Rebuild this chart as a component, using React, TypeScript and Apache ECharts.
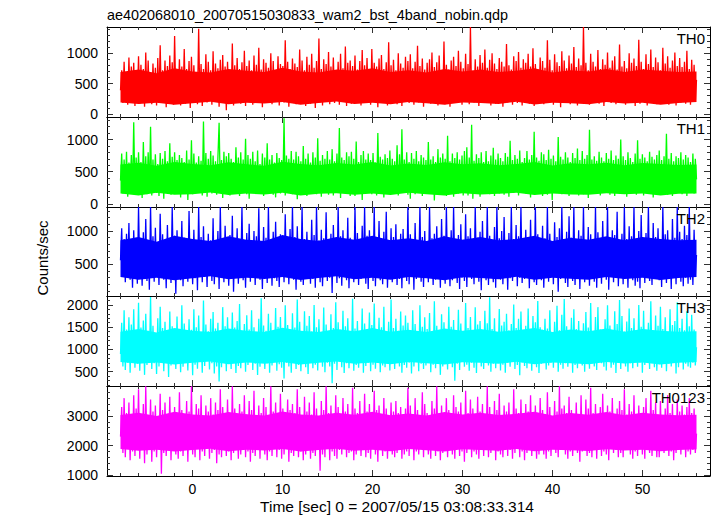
import React, { useEffect, useRef } from "react";
import * as echarts from "echarts";

const TITLE = "ae402068010_20070515030833_wam2_bst_4band_nobin.qdp";
const X_TITLE = "Time [sec] 0 = 2007/05/15 03:08:33.314";
const Y_TITLE = "Counts/sec";
const PANEL_NAMES = ["TH0", "TH1", "TH2", "TH3", "TH0123"];
const PANEL_COLORS = ["#ff0000", "#00ff00", "#0000ff", "#00ffff", "#ff00ff"];

const T_START = -8;
const T_END = 56;
const X_MAJOR_TICKS = [0, 10, 20, 30, 40, 50];
const X_MINOR_TICKS = [-8, -6, -4, -2, 0, 2, 4, 6, 8, 10, 12, 14, 16, 18, 20, 22, 24, 26, 28, 30, 32, 34, 36, 38, 40, 42, 44, 46, 48, 50, 52, 54, 56];

const Y_RANGES: [number, number][] = [[-50, 1430], [-50, 1350], [25, 1360], [180, 2200], [970, 4010]];
const Y_MAJOR_TICKS = [[0, 500, 1000], [0, 500, 1000], [500, 1000], [500, 1000, 1500, 2000], [1000, 2000, 3000]];
const Y_MINOR_TICKS = [
  [0, 100, 200, 300, 400, 500, 600, 700, 800, 900, 1000, 1100, 1200, 1300, 1400],
  [0, 100, 200, 300, 400, 500, 600, 700, 800, 900, 1000, 1100, 1200, 1300],
  [100, 200, 300, 400, 500, 600, 700, 800, 900, 1000, 1100, 1200, 1300],
  [200, 300, 400, 500, 600, 700, 800, 900, 1000, 1100, 1200, 1300, 1400, 1500, 1600, 1700, 1800, 1900, 2000, 2100],
  [1000, 1200, 1400, 1600, 1800, 2000, 2200, 2400, 2600, 2800, 3000, 3200, 3400, 3600, 3800],
];

// light curves (counts/sec), sampled uniformly from t = -8 s to t = 56 s
const th0 = [
  390, 720, 180, 860, 240, 690, 150, 930, 210, 780, 270, 840, 130, 700, 230, 950,
  170, 810, 260, 740, 120, 1010, 200, 880, 250, 690, 160, 830, 290, 760, 140, 920,
  220, 1130, 180, 720, 270, 880, 110, 790, 240, 960, 190, 850, 150, 1280, 230, 710,
  280, 900, 140, 780, 210, 1070, 170, 740, 250, 870, 100, 940, 200, 800, 260, 690,
  160, 1400, 230, 820, 130, 740, 280, 980, 190, 860, 240, 720, 150, 1030, 210, 830,
  270, 750, 120, 890, 220, 970, 180, 780, 60, 860, 250, 710, 190, 1160, 140, 800,
  230, 920, 280, 740, 170, 850, 210, 1040, 130, 790, 260, 880, 200, 720, 150, 960,
  240, 810, 190, 1090, 270, 730, 110, 900, 220, 840, 180, 760, 300, 1000, 160, 870,
  210, 700, 250, 950, 140, 820, 230, 790, 190, 1210, 270, 860, 120, 740, 200, 910,
  260, 830, 160, 770, 240, 1060, 180, 880, 290, 720, 130, 940, 220, 810, 170, 990,
  230, 760, 100, 870, 250, 1240, 190, 740, 140, 900, 270, 820, 210, 1020, 160, 780,
  280, 930, 180, 710, 240, 860, 150, 990, 220, 750, 260, 1110, 130, 840, 200, 880,
  170, 790, 250, 960, 190, 730, 290, 870, 140, 1050, 220, 800, 180, 920, 240, 720,
  150, 1070, 270, 840, 200, 780, 110, 910, 230, 970, 180, 740, 260, 850, 140, 1180,
  220, 800, 190, 890, 280, 720, 160, 1000, 240, 830, 130, 760, 210, 940, 270, 870,
  180, 980, 230, 750, 150, 860, 250, 1120, 190, 790, 280, 910, 120, 730, 220, 840,
  260, 900, 170, 1010, 230, 770, 200, 850, 140, 960, 250, 720, 190, 1190, 160, 810,
  240, 730, 120, 880, 270, 940, 210, 790, 180, 1040, 230, 860, 150, 750, 290, 990,
  200, 820, 160, 1430, 250, 710, 190, 900, 230, 780, 130, 970, 260, 840, 180, 1060,
  270, 760, 220, 890, 140, 1000, 240, 830, 170, 740, 280, 920, 200, 860, 120, 780,
  230, 1150, 190, 800, 260, 730, 150, 950, 220, 870, 180, 1020, 250, 760, 140, 900,
  210, 840, 280, 990, 170, 780, 240, 1080, 130, 820, 230, 740, 190, 930, 260, 870,
  160, 760, 220, 1210, 180, 890, 270, 720, 150, 980, 240, 850, 200, 790, 110, 1030,
  250, 880, 190, 750, 230, 960, 160, 830, 280, 1100, 210, 770, 140, 910, 240, 800,
  180, 1430, 260, 840, 200, 720, 150, 990, 230, 860, 190, 780, 270, 1050, 170, 740,
  220, 900, 130, 810, 250, 1010, 210, 760, 180, 880, 240, 950, 160, 730, 280, 1140,
  200, 780, 240, 870, 150, 750, 260, 1000, 190, 840, 220, 910, 130, 790, 250, 1220,
  170, 860, 230, 740, 280, 980, 140, 820, 210, 1060, 250, 770, 190, 930, 160, 850,
  260, 720, 180, 1090, 230, 830, 200, 950, 150, 760, 270, 880, 220, 1010, 140, 790,
  240, 920, 190, 770, 260, 860, 170, 1040, 230, 740, 150, 890, 280, 810, 200, 560,
];
const th1 = [
  360, 780, 160, 690, 220, 810, 110, 640, 250, 760, 180, 1270, 140, 720, 230, 800,
  200, 650, 90, 960, 240, 740, 150, 800, 210, 1200, 130, 690, 260, 770, 170, 620,
  120, 790, 230, 700, 80, 820, 190, 660, 250, 940, 140, 730, 210, 800, 160, 680,
  230, 760, 100, 710, 270, 650, 170, 830, 60, 690, 220, 990, 150, 780, 240, 640,
  180, 740, 250, 670, 130, 1280, 210, 790, 110, 700, 240, 820, 160, 750, 200, 660,
  140, 720, 1260, 230, 680, 90, 810, 200, 740, 260, 790, 130, 700, 220, 650, 170,
  880, 240, 720, 120, 800, 190, 690, 250, 1010, 150, 760, 80, 700, 230, 810, 170,
  660, 210, 830, 160, 620, 270, 780, 120, 720, 230, 940, 180, 690, 250, 760, 140,
  640, 100, 790, 240, 710, 160, 680, 210, 1330, 130, 750, 260, 700, 190, 820, 150,
  690, 190, 810, 70, 740, 230, 660, 160, 900, 220, 700, 120, 780, 250, 640, 180,
  800, 260, 720, 150, 1020, 210, 670, 110, 760, 240, 700, 180, 820, 140, 690, 230,
  850, 130, 660, 270, 780, 200, 1180, 90, 720, 230, 680, 160, 800, 210, 740, 120,
  810, 220, 700, 120, 970, 250, 650, 180, 760, 60, 820, 230, 690, 170, 780, 240,
  680, 150, 790, 240, 640, 130, 1100, 200, 730, 260, 690, 100, 770, 210, 710, 160,
  830, 210, 700, 160, 660, 240, 910, 130, 770, 220, 1160, 180, 690, 250, 800, 140,
  650, 80, 790, 230, 700, 150, 820, 200, 660, 270, 760, 120, 720, 190, 680, 240,
  960, 230, 690, 170, 740, 50, 650, 250, 850, 140, 720, 210, 780, 160, 700, 120,
  1060, 180, 660, 260, 780, 110, 710, 220, 800, 160, 690, 240, 750, 130, 820, 200,
  880, 130, 720, 200, 1230, 80, 670, 230, 770, 170, 710, 110, 800, 250, 650, 190,
  820, 250, 660, 150, 750, 210, 870, 120, 690, 230, 780, 160, 710, 240, 660, 140,
  790, 200, 730, 110, 980, 240, 680, 170, 760, 220, 700, 130, 830, 190, 650, 260,
  710, 160, 820, 230, 690, 100, 760, 210, 1120, 150, 720, 250, 670, 180, 800, 120,
  770, 240, 680, 140, 840, 200, 700, 60, 750, 230, 660, 170, 1040, 210, 730, 150,
  690, 190, 800, 260, 720, 120, 650, 220, 790, 180, 710, 240, 860, 130, 680, 200,
  820, 150, 700, 230, 760, 90, 1150, 200, 690, 250, 740, 160, 670, 220, 810, 130,
  720, 240, 660, 170, 790, 210, 700, 140, 830, 260, 680, 120, 750, 200, 700, 180,
  1000, 160, 740, 230, 680, 110, 800, 250, 710, 190, 650, 220, 780, 140, 990, 200,
  700, 250, 770, 130, 720, 190, 660, 240, 810, 170, 730, 100, 690, 220, 760, 160,
  830, 210, 680, 180, 740, 230, 1090, 140, 700, 260, 790, 120, 660, 200, 740, 170,
  710, 240, 800, 150, 690, 210, 760, 120, 720, 250, 650, 190, 780, 160, 700, 380,
];
const th2 = [
  560, 1040, 320, 880, 230, 960, 380, 1120, 270, 820, 150, 1010, 340, 900, 210, 1360,
  420, 860, 180, 980, 300, 1180, 250, 840, 120, 1360, 360, 920, 240, 1050, 330, 800,
  190, 1260, 400, 950, 270, 870, 140, 1090, 350, 780, 220, 1360, 310, 930, 60, 1010,
  390, 840, 260, 1150, 170, 900, 330, 760, 240, 1300, 370, 880, 200, 1020, 290, 830,
  110, 1360, 350, 910, 230, 1070, 310, 790, 160, 960, 380, 860, 250, 1190, 200, 820,
  340, 1000, 130, 1360, 300, 890, 230, 1080, 400, 770, 180, 940, 280, 1230, 90, 850,
  350, 1040, 210, 880, 320, 1360, 260, 790, 150, 970, 370, 1110, 240, 840, 300, 1000,
  190, 920, 410, 1340, 270, 810, 130, 1060, 330, 900, 220, 1360, 360, 860, 180, 990,
  290, 1140, 250, 780, 160, 950, 380, 870, 230, 1250, 310, 820, 200, 1030, 340, 1360,
  270, 910, 120, 1070, 350, 800, 240, 1360, 190, 880, 310, 990, 400, 830, 210, 1170,
  280, 940, 150, 1360, 330, 860, 230, 1020, 170, 890, 360, 1280, 250, 810, 300, 960,
  70, 1090, 380, 850, 220, 1360, 290, 920, 180, 1010, 340, 780, 260, 1200, 140, 900,
  370, 840, 230, 1360, 310, 970, 190, 860, 280, 1080, 350, 1360, 210, 930, 130, 1010,
  390, 820, 250, 1360, 170, 900, 320, 1150, 260, 870, 200, 990, 360, 1290, 150, 840,
  300, 1040, 230, 910, 340, 1100, 190, 860, 280, 960, 140, 1030, 310, 880, 250, 1360,
  200, 950, 330, 870, 120, 1120, 280, 800, 370, 1360, 240, 910, 160, 1000, 310, 850,
  230, 1360, 380, 890, 190, 960, 270, 1070, 340, 820, 150, 1180, 290, 930, 210, 1360,
  320, 880, 170, 1010, 260, 1360, 390, 830, 220, 940, 130, 1100, 300, 870, 250, 1250,
  160, 920, 350, 1040, 280, 810, 200, 1360, 330, 900, 240, 990, 110, 1150, 370, 860,
  260, 1360, 190, 930, 310, 850, 230, 1060, 150, 1360, 350, 890, 270, 1000, 200, 1210,
  340, 840, 120, 970, 290, 1360, 250, 880, 380, 1090, 170, 920, 300, 1360, 220, 810,
  280, 1020, 360, 900, 140, 1170, 310, 830, 230, 1360, 190, 950, 350, 870, 260, 1080,
  150, 890, 300, 1360, 240, 960, 380, 820, 200, 1130, 330, 910, 90, 1040, 280, 1360,
  370, 860, 220, 990, 160, 1220, 310, 900, 250, 1360, 190, 840, 340, 1010, 130, 930,
  290, 1360, 230, 870, 360, 1060, 180, 950, 300, 820, 240, 1360, 150, 980, 320, 890,
  210, 1150, 340, 910, 270, 1360, 120, 860, 380, 1010, 230, 940, 310, 1290, 170, 830,
  330, 960, 200, 1360, 290, 880, 150, 1070, 350, 920, 260, 1360, 180, 850, 240, 1000,
  140, 1240, 310, 890, 220, 970, 370, 1360, 250, 830, 190, 1120, 340, 910, 280, 1040,
  260, 870, 160, 1360, 330, 950, 220, 1010, 290, 860, 130, 1180, 360, 900, 200, 1360,
  320, 990, 240, 880, 170, 1080, 300, 940, 210, 1360, 270, 860, 190, 1020, 330, 640,
];
const th3 = [
  900, 1600, 620, 1880, 540, 1450, 700, 1720, 480, 1560, 760, 1900, 590, 1380, 680, 2050,
  520, 1490, 800, 1650, 430, 1800, 650, 1420, 740, 2180, 560, 1530, 690, 1370, 450, 1700,
  620, 1960, 780, 1480, 510, 1620, 700, 1390, 380, 1850, 640, 1520, 730, 1300, 560, 1740,
  680, 1460, 490, 1990, 610, 1580, 750, 1350, 530, 1680, 700, 1440, 420, 1900, 660, 1500,
  570, 1760, 720, 1330, 480, 2100, 630, 1560, 770, 1410, 550, 1690, 690, 1840, 460, 1470,
  620, 1600, 280, 1380, 600, 1950, 740, 1520, 510, 1720, 680, 1400, 560, 1830, 710, 1490,
  470, 1640, 630, 2020, 580, 1360, 760, 1570, 500, 1770, 650, 1450, 720, 1880, 540, 1500,
  680, 1310, 430, 1690, 610, 2150, 750, 1540, 560, 1420, 690, 1800, 480, 1600, 640, 1370,
  730, 1930, 520, 1510, 670, 1730, 590, 1460, 350, 1990, 700, 1550, 620, 1390, 480, 1810,
  740, 1490, 560, 2120, 650, 1620, 510, 1410, 690, 1860, 600, 1530, 450, 1750, 720, 1400,
  580, 2000, 660, 1500, 530, 1680, 760, 1370, 610, 1940, 490, 1560, 700, 1330, 620, 1790,
  240, 1480, 680, 2060, 540, 1610, 730, 1440, 600, 1870, 470, 1520, 690, 1700, 580, 1390,
  720, 2140, 520, 1470, 650, 1640, 590, 1360, 740, 1920, 480, 1580, 630, 1400, 700, 1830,
  510, 1550, 660, 2030, 570, 1450, 720, 1710, 490, 1500, 640, 1960, 600, 1380, 750, 1620,
  530, 2120, 680, 1480, 560, 1690, 710, 1420, 620, 1850, 480, 1540, 650, 1760, 590, 1600,
  700, 1430, 460, 1880, 620, 1570, 730, 1350, 510, 1990, 680, 1510, 560, 1720, 640, 1460,
  750, 1820, 490, 1400, 660, 2080, 580, 1530, 710, 1380, 430, 1790, 620, 1610, 690, 1440,
  550, 1960, 720, 1510, 600, 1660, 300, 1420, 680, 1890, 540, 1580, 740, 1370, 610, 2040,
  660, 1480, 520, 1730, 700, 1400, 590, 1950, 470, 1560, 730, 1640, 620, 1350, 560, 1870,
  710, 1590, 640, 2170, 500, 1460, 680, 1700, 580, 1390, 750, 1910, 530, 1540, 660, 1620,
  480, 1800, 700, 1430, 610, 1570, 740, 2010, 560, 1480, 650, 1690, 420, 1850, 710, 1400,
  630, 1530, 580, 1920, 690, 1360, 520, 1750, 740, 1610, 600, 2090, 470, 1500, 680, 1440,
  720, 1690, 550, 1470, 640, 1880, 700, 1350, 590, 1620, 760, 1980, 500, 1430, 660, 1780,
  570, 2130, 690, 1520, 610, 1400, 730, 1710, 480, 1900, 650, 1460, 580, 1640, 720, 1380,
  640, 1590, 500, 1840, 700, 1490, 570, 2040, 680, 1360, 620, 1730, 540, 1950, 750, 1450,
  690, 1420, 610, 1680, 530, 1990, 720, 1540, 590, 1410, 660, 1860, 470, 1570, 700, 2110,
  560, 1750, 730, 1400, 620, 1630, 500, 1920, 690, 1480, 580, 1700, 740, 1380, 610, 2000,
  710, 1510, 480, 1870, 650, 1440, 720, 1600, 560, 2080, 690, 1390, 600, 1760, 520, 1530,
  670, 1960, 590, 1460, 740, 1720, 510, 1370, 680, 1900, 620, 1550, 700, 1640, 460, 2060,
  600, 1480, 720, 1690, 550, 1430, 680, 1860, 620, 1520, 590, 1780, 700, 1450, 640, 1050,
];
const th0123 = [
  2300, 3300, 1750, 3600, 1600, 3100, 1900, 3450, 1500, 3000, 1800, 3700, 1650, 3250, 1950, 3900,
  1550, 3050, 1850, 3400, 1400, 4000, 1700, 2950, 1900, 3550, 1450, 3150, 1800, 3350, 1600, 2900,
  1950, 3750, 1050, 3200, 1750, 3450, 1650, 3000, 1850, 3650, 1500, 3100, 1900, 3300, 1700, 2950,
  1550, 3800, 1800, 3200, 1650, 3050, 1950, 3500, 1450, 3150, 1850, 4000, 1700, 3000, 1600, 3400,
  1900, 3250, 1500, 3700, 1800, 2950, 1650, 3350, 1950, 3150, 1550, 3600, 1750, 3050, 1850, 3450,
  1400, 3200, 1700, 3900, 1600, 3300, 1900, 3000, 1650, 3550, 1800, 3100, 1500, 4000, 1750, 3250,
  1850, 2950, 1550, 3400, 1700, 3150, 1950, 3700, 1600, 3050, 1800, 3500, 1450, 3200, 1750, 3850,
  1650, 3000, 1900, 3350, 1550, 3100, 1850, 3600, 1700, 3300, 1500, 2950, 1800, 4000, 1650, 3150,
  1950, 3450, 1600, 3050, 1850, 3750, 1550, 3250, 1700, 3000, 1900, 3550, 1450, 3200, 1750, 3400,
  1650, 3100, 1950, 3900, 1600, 3300, 1800, 2950, 1500, 3650, 1700, 3150, 1900, 3450, 1550, 3050,
  1750, 3800, 1650, 3250, 1850, 3000, 1150, 3500, 1700, 3200, 1600, 4000, 1900, 3100, 1500, 3350,
  1800, 2950, 1650, 3700, 1550, 3300, 1850, 3050, 1700, 3600, 1950, 3150, 1600, 3400, 1750, 3000,
  1800, 3950, 1500, 3250, 1700, 3100, 1900, 3500, 1650, 3000, 1850, 3750, 1600, 3150, 1750, 3400,
  1550, 2950, 1900, 3850, 1700, 3200, 1450, 3350, 1850, 3050, 1650, 3600, 1800, 3250, 1550, 3000,
  1950, 3450, 1700, 3150, 1600, 3500, 1750, 3100, 1850, 3300, 1550, 3000, 1700, 3250, 1800, 3950,
  1650, 3350, 1900, 3050, 1500, 3600, 1800, 3200, 1700, 2950, 1950, 3800, 1600, 3400, 1850, 3100,
  1700, 3000, 1550, 3500, 1900, 3250, 1650, 4000, 1800, 3100, 1500, 3350, 1750, 3050, 1950, 3600,
  1600, 3200, 1850, 2950, 1700, 3700, 1550, 3300, 1900, 3150, 1650, 3450, 1800, 3000, 1450, 3850,
  1750, 3100, 1950, 3550, 1600, 3250, 1800, 3000, 1700, 3650, 1550, 3150, 1900, 3400, 1650, 3050,
  1850, 4000, 1600, 3300, 1750, 3050, 1950, 3500, 1500, 3200, 1800, 3750, 1700, 2950, 1600, 3350,
  1900, 3150, 1650, 3450, 1850, 3000, 1550, 3900, 1750, 3250, 1950, 3100, 1600, 3550, 1800, 3000,
  1500, 3400, 1750, 3150, 1900, 3700, 1650, 3050, 1850, 3350, 1550, 2950, 1700, 3600, 1950, 3200,
  1700, 3050, 1550, 3800, 1800, 3300, 1650, 3000, 1900, 3500, 1750, 3150, 1600, 4000, 1850, 3250,
  1950, 3350, 1700, 3100, 1550, 3650, 1800, 3200, 1650, 2950, 1900, 3450, 1750, 3050, 1450, 3700,
  1800, 3000, 1900, 3550, 1650, 3250, 1750, 3950, 1600, 3100, 1850, 3400, 1550, 3000, 1950, 3300,
  1650, 3750, 1800, 3050, 1700, 3350, 1500, 3150, 1900, 3600, 1750, 2950, 1850, 3250, 1600, 3500,
  1750, 3200, 1600, 3900, 1850, 3050, 1950, 3400, 1700, 3150, 1550, 3700, 1800, 3000, 1650, 3350,
  1900, 3100, 1700, 3300, 1550, 3600, 1850, 2950, 1750, 3850, 1650, 3200, 1950, 3450, 1600, 3050,
  1600, 3500, 1850, 3000, 1750, 3250, 1900, 3700, 1650, 3100, 1800, 3400, 1500, 3000, 1750, 3550,
  1850, 3150, 1700, 3350, 1950, 3050, 1600, 3300, 1800, 3600, 1700, 3100, 1850, 3250, 1750, 2400,
];

// dense core of each light curve (where the trace is solid), every 2 s from -8 to 56
const BAND_T = [-8, -6, -4, -2, 0, 2, 4, 6, 8, 10, 12, 14, 16, 18, 20, 22, 24, 26, 28, 30, 32, 34, 36, 38, 40, 42, 44, 46, 48, 50, 52, 54, 56];
const th0BandLo = [190, 165, 185, 150, 175, 200, 160, 185, 170, 195, 150, 180, 205, 165, 185, 160, 195, 175, 150, 190, 180, 165, 200, 155, 185, 175, 160, 195, 170, 185, 150, 180, 195];
const th0BandHi = [690, 730, 670, 750, 700, 680, 740, 710, 690, 760, 700, 680, 730, 710, 750, 690, 720, 680, 740, 700, 730, 690, 710, 750, 680, 720, 700, 740, 690, 730, 710, 690, 700];
const th1BandLo = [160, 130, 170, 140, 150, 175, 135, 160, 145, 170, 130, 155, 165, 140, 160, 135, 170, 150, 130, 165, 145, 155, 170, 135, 160, 145, 140, 165, 150, 160, 130, 155, 160];
const th1BandHi = [610, 640, 590, 650, 620, 600, 645, 615, 590, 655, 620, 600, 635, 610, 650, 595, 625, 605, 645, 615, 630, 600, 620, 650, 595, 630, 615, 640, 600, 635, 620, 605, 610];
const th2BandLo = [310, 270, 300, 260, 290, 320, 275, 300, 280, 310, 265, 295, 320, 275, 300, 270, 310, 290, 260, 305, 295, 275, 315, 270, 300, 285, 270, 310, 280, 300, 265, 295, 310];
const th2BandHi = [860, 910, 840, 930, 880, 850, 920, 870, 850, 940, 880, 850, 910, 870, 930, 860, 890, 850, 920, 870, 910, 860, 880, 930, 850, 900, 870, 920, 860, 910, 880, 860, 870];
const th3BandLo = [720, 680, 710, 660, 700, 730, 670, 710, 680, 720, 660, 700, 730, 680, 710, 670, 720, 690, 660, 715, 700, 680, 725, 670, 710, 690, 670, 720, 685, 710, 665, 700, 720];
const th3BandHi = [1400, 1460, 1380, 1480, 1420, 1390, 1470, 1420, 1390, 1490, 1420, 1390, 1460, 1410, 1480, 1400, 1440, 1390, 1470, 1420, 1460, 1400, 1430, 1480, 1390, 1450, 1410, 1470, 1400, 1460, 1420, 1400, 1410];
const th0123BandLo = [1880, 1820, 1860, 1800, 1850, 1890, 1810, 1860, 1830, 1880, 1800, 1850, 1890, 1820, 1860, 1810, 1880, 1840, 1800, 1870, 1850, 1820, 1885, 1810, 1860, 1840, 1815, 1875, 1830, 1860, 1805, 1850, 1870];
const th0123BandHi = [3030, 3110, 3000, 3140, 3050, 3010, 3130, 3060, 3010, 3150, 3050, 3010, 3110, 3040, 3140, 3020, 3080, 3010, 3130, 3050, 3110, 3030, 3070, 3140, 3010, 3100, 3040, 3130, 3020, 3110, 3050, 3020, 3040];

const CURVES = [th0, th1, th2, th3, th0123];
const BANDS_LO = [th0BandLo, th1BandLo, th2BandLo, th3BandLo, th0123BandLo];
const BANDS_HI = [th0BandHi, th1BandHi, th2BandHi, th3BandHi, th0123BandHi];

const FONT = "'Liberation Sans', Arial, Helvetica, sans-serif";
const PANEL_TOPS = [27, 117, 207, 296, 386];
const PANEL_H = 90;
const LEFT = 107;
const RIGHT = 7;

function buildOption() {
  const grids: any[] = [];
  const xAxes: any[] = [];
  const yAxes: any[] = [];
  const series: any[] = [];
  const graphics: any[] = [];
  const axisLineStyle = { color: "#000", width: 1 };
  const tickStyle = { color: "#333", width: 1 };
  const fmt = (v: number) => String(v);

  PANEL_NAMES.forEach((name, p) => {
    const top = PANEL_TOPS[p];
    const h = p === 2 ? 89 : PANEL_H;
    grids.push({ left: LEFT, right: RIGHT, top, height: h, containLabel: false });
    const last = p === PANEL_NAMES.length - 1;
    const xBase = xAxes.length;
    const mkX = (position: string, ticks: number[], len: number, labels: boolean, line: boolean) => ({
      type: "value",
      gridIndex: p,
      position,
      min: -9.5,
      max: 57.5,
      axisLine: { show: line, onZero: false, lineStyle: axisLineStyle },
      axisTick: { show: true, inside: true, length: len, customValues: ticks, lineStyle: tickStyle },
      axisLabel: {
        show: labels,
        customValues: X_MAJOR_TICKS,
        formatter: fmt,
        color: "#000",
        fontSize: 14,
        fontFamily: FONT,
        margin: 6,
      },
      splitLine: { show: false },
    });
    xAxes.push(mkX("bottom", X_MAJOR_TICKS, 6, last, true));
    xAxes.push(mkX("bottom", X_MINOR_TICKS, 3, false, false));
    xAxes.push(mkX("top", X_MAJOR_TICKS, 6, false, true));
    xAxes.push(mkX("top", X_MINOR_TICKS, 3, false, false));

    const yBase = yAxes.length;
    const [ymin, ymax] = Y_RANGES[p];
    const mkY = (position: string, ticks: number[], len: number, labels: boolean, line: boolean) => ({
      type: "value",
      gridIndex: p,
      position,
      min: ymin,
      max: ymax,
      axisLine: { show: line, onZero: false, lineStyle: axisLineStyle },
      axisTick: { show: true, inside: true, length: len, customValues: ticks, lineStyle: tickStyle },
      axisLabel: {
        show: labels,
        customValues: Y_MAJOR_TICKS[p],
        formatter: fmt,
        color: "#000",
        fontSize: 14,
        fontFamily: FONT,
        margin: 9,
      },
      splitLine: { show: false },
    });
    yAxes.push(mkY("left", Y_MAJOR_TICKS[p], 6, true, true));
    yAxes.push(mkY("left", Y_MINOR_TICKS[p], 3, false, false));
    yAxes.push(mkY("right", Y_MAJOR_TICKS[p], 6, false, true));
    yAxes.push(mkY("right", Y_MINOR_TICKS[p], 3, false, false));

    const curve = CURVES[p];
    const n = curve.length;
    const data = curve.map((v, i) => [T_START + (i * (T_END - T_START)) / (n - 1), v]);
    const lo = BANDS_LO[p];
    const hi = BANDS_HI[p];
    const color = PANEL_COLORS[p];

    series.push({
      type: "custom",
      xAxisIndex: xBase,
      yAxisIndex: yBase,
      silent: true,
      z: 1,
      data: [[BAND_T[0], lo[0]]],
      renderItem: (_params: any, api: any) => {
        const pts: number[][] = [];
        for (let k = 0; k < BAND_T.length; k++) pts.push(api.coord([BAND_T[k], hi[k]]));
        for (let k = BAND_T.length - 1; k >= 0; k--) pts.push(api.coord([BAND_T[k], lo[k]]));
        return { type: "polygon", shape: { points: pts }, style: { fill: color } };
      },
    });
    series.push({
      type: "line",
      name,
      xAxisIndex: xBase,
      yAxisIndex: yBase,
      data,
      symbol: "none",
      silent: true,
      z: 2,
      lineStyle: { color, width: 1.3 },
      itemStyle: { color },
    });

    graphics.push({
      type: "text",
      x: 705,
      y: top + 11,
      style: {
        text: name,
        align: "right",
        verticalAlign: "middle",
        font: `15px ${FONT}`,
        fill: "#000",
      },
      z: 10,
    });
  });

  graphics.push({
    type: "text",
    x: 107,
    y: 15,
    style: { text: TITLE, align: "left", verticalAlign: "middle", font: `14.4px ${FONT}`, fill: "#000" },
  });
  graphics.push({
    type: "text",
    x: 397,
    y: 506,
    style: { text: X_TITLE, align: "center", verticalAlign: "middle", font: `15.5px ${FONT}`, fill: "#000" },
  });
  graphics.push({
    type: "text",
    x: 42,
    y: 258,
    rotation: Math.PI / 2,
    style: { text: Y_TITLE, align: "center", verticalAlign: "middle", font: `15px ${FONT}`, fill: "#000" },
  });

  return {
    animation: false,
    backgroundColor: "#ffffff",
    textStyle: { fontFamily: FONT },
    grid: grids,
    xAxis: xAxes,
    yAxis: yAxes,
    series,
    graphic: graphics,
  };
}

export default function App() {
  const ref = useRef<HTMLDivElement>(null);
  useEffect(() => {
    document.body.style.margin = "0";
    if (!ref.current) return;
    const chart = echarts.init(ref.current, null, { renderer: "svg" });
    chart.setOption(buildOption() as any);
    return () => chart.dispose();
  }, []);
  return <div ref={ref} style={{ width: 717, height: 516 }} />;
}
